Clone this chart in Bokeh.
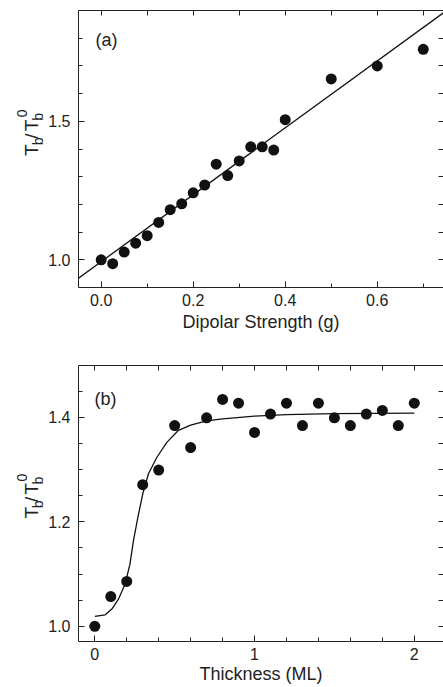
import numpy as np
from bokeh.plotting import figure
from bokeh.models import FixedTicker, LinearAxis, Label, Range1d, PrintfTickFormatter
from bokeh.core.properties import value
from bokeh.layouts import column, row
from bokeh.embed import file_html
from bokeh.resources import INLINE

# ---------------- Panel (a) data ----------------
dipolar_g = [0.0, 0.025, 0.05, 0.075, 0.1, 0.125, 0.15, 0.175, 0.2, 0.225,
             0.25, 0.275, 0.3, 0.325, 0.35, 0.375, 0.4, 0.5, 0.6, 0.7]
tb_ratio_a = [1.000, 0.986, 1.028, 1.060, 1.087, 1.135, 1.181, 1.202, 1.242, 1.270,
              1.345, 1.304, 1.357, 1.408, 1.408, 1.396, 1.506, 1.653, 1.700, 1.760]
fit_a_x = [-0.05, 0.75]
fit_a_y = [0.933, 1.899]

# ---------------- Panel (b) data ----------------
thickness_ml = [0.0, 0.1, 0.2, 0.3, 0.4, 0.5, 0.6, 0.7, 0.8, 0.9, 1.0,
                1.1, 1.2, 1.3, 1.4, 1.5, 1.6, 1.7, 1.8, 1.9, 2.0]
tb_ratio_b = [1.000, 1.057, 1.086, 1.271, 1.299, 1.384, 1.342, 1.399, 1.434, 1.427, 1.371,
              1.406, 1.427, 1.384, 1.427, 1.399, 1.384, 1.406, 1.413, 1.384, 1.427]
fit_b_x = [0.0, 0.065, 0.107, 0.148, 0.19, 0.22, 0.242, 0.27, 0.30, 0.336,
           0.388, 0.451, 0.524, 0.6, 0.7, 0.8, 1.0, 1.2, 1.5, 2.0]
fit_b_y = [1.019, 1.022, 1.033, 1.052, 1.081, 1.119, 1.164, 1.209, 1.253, 1.292,
           1.323, 1.352, 1.375, 1.385, 1.393, 1.397, 1.402, 1.405, 1.407, 1.408]

# ---------------- Ticks ----------------
xticks_a = [0.0, 0.2, 0.4, 0.6]
xminor_a = [0.0, 0.1, 0.2, 0.3, 0.4, 0.5, 0.6, 0.7]
yticks_a = [1.0, 1.5]
yminor_a = [1.0, 1.1, 1.2, 1.3, 1.4, 1.5, 1.6, 1.7, 1.8]
xticks_b = [0, 1, 2]
xminor_b = [0, 0.2, 0.4, 0.6, 0.8, 1.0, 1.2, 1.4, 1.6, 1.8, 2.0]
yticks_b = [1.0, 1.2, 1.4]
yminor_b = [1.0, 1.05, 1.1, 1.15, 1.2, 1.25, 1.3, 1.35, 1.4, 1.45]

FONT = "Liberation Sans"
TXT = "#222222"
INK = "#111111"
LABEL_W = 45


def style_axis(ax, standoff=6):
    ax.major_tick_in = 6
    ax.major_tick_out = 0
    ax.minor_tick_in = 4
    ax.minor_tick_out = 0
    ax.major_tick_line_color = TXT
    ax.minor_tick_line_color = TXT
    ax.axis_line_color = TXT
    ax.major_label_text_font = FONT
    ax.major_label_text_color = TXT
    ax.major_label_text_font_size = "16px"
    ax.major_label_standoff = standoff
    ax.axis_label_text_font = FONT
    ax.axis_label_text_font_size = "18px"
    ax.axis_label_text_font_style = "normal"
    ax.axis_label_text_color = TXT


def mirror_axis(ticks, loc, p, line=True):
    # ticks only (as minor ticks, so no labels are drawn)
    ax = LinearAxis(ticker=FixedTicker(ticks=[], minor_ticks=ticks))
    ax.minor_tick_in = 5
    ax.minor_tick_out = 0
    ax.major_tick_out = 0
    ax.major_tick_in = 0
    ax.major_label_standoff = 0
    ax.minor_tick_line_color = TXT
    ax.axis_line_color = TXT if line else None
    p.add_layout(ax, loc)


def make_panel(height, top, bottom, xr, yr, xt, xm, yt, ym, xfmt, yfmt, xlabel, title_standoff):
    p = figure(width=443 - LABEL_W, height=height, output_backend="svg", toolbar_location=None,
               x_range=Range1d(*xr), y_range=Range1d(*yr),
               min_border_left=78 - LABEL_W, min_border_right=0,
               min_border_top=top, min_border_bottom=bottom)
    p.xgrid.grid_line_color = None
    p.ygrid.grid_line_color = None
    p.outline_line_color = None
    p.background_fill_color = "white"
    p.border_fill_color = "white"

    p.xaxis.ticker = FixedTicker(ticks=xt, minor_ticks=xm)
    p.yaxis.ticker = FixedTicker(ticks=yt, minor_ticks=ym)
    p.xaxis.formatter = PrintfTickFormatter(format=xfmt)
    p.yaxis.formatter = PrintfTickFormatter(format=yfmt)
    style_axis(p.xaxis[0], 6)
    style_axis(p.yaxis[0], 8)
    p.xaxis.axis_label = xlabel
    p.xaxis.axis_label_standoff = title_standoff

    mirror_axis(xm, "above", p, True)
    mirror_axis(ym, "right", p, False)
    return p


def make_ylabel(height, bottom):
    # y label  T_b / T_b^0, rotated, built from pieces
    q = figure(width=LABEL_W, height=height, output_backend="svg", toolbar_location=None,
               x_range=Range1d(0, LABEL_W), y_range=Range1d(0, height),
               min_border=0)
    q.axis.visible = False
    q.grid.visible = False
    q.outline_line_color = None
    q.border_fill_color = "white"
    q.background_fill_color = "white"
    main_txt = ["T", "/", "T"]
    main_x = [31, 31, 31]
    main_y = [bottom + 110, bottom + 131, bottom + 140]
    q.text(x=main_x, y=main_y, text=main_txt, angle=np.pi / 2, text_font=value(FONT),
           text_font_size=value("19px"), text_color=TXT, text_align="left",
           text_baseline="alphabetic")
    sub_txt = ["b", "b", "0"]
    sub_x = [37, 37, 21]
    sub_y = [bottom + 123, bottom + 153, bottom + 157]
    q.text(x=sub_x, y=sub_y, text=sub_txt, angle=np.pi / 2, text_font=value(FONT),
           text_font_size=value("14px"), text_color=TXT, text_align="left",
           text_baseline="alphabetic")
    return q


# Panel (a)
HA, BA = 337, 50
pa = make_panel(HA, 10, BA, (-0.0493, 0.744), (0.9, 1.9),
                xticks_a, xminor_a, yticks_a, yminor_a, "%.1f", "%.1f",
                "Dipolar Strength (g)", 3)
pa.line(fit_a_x, fit_a_y, line_color=INK, line_width=1.3)
pa.scatter(dipolar_g, tb_ratio_a, size=11, fill_color=INK, line_color=None)
pa.add_layout(Label(x=17, y=247.5, x_units="screen", y_units="screen", text="(a)",
                    text_font=FONT, text_font_size="18px", text_color=TXT,
                    text_baseline="alphabetic"))

# Panel (b)
HB, BB = 350, 46
pb = make_panel(HB, 28, BB, (-0.102, 2.183), (0.971, 1.499),
                xticks_b, xminor_b, yticks_b, yminor_b, "%d", "%.1f",
                "Thickness (ML)", 1)
pb.line(fit_b_x, fit_b_y, line_color=INK, line_width=1.3)
pb.scatter(thickness_ml, tb_ratio_b, size=11, fill_color=INK, line_color=None)
pb.add_layout(Label(x=16, y=243, x_units="screen", y_units="screen", text="(b)",
                    text_font=FONT, text_font_size="18px", text_color=TXT,
                    text_baseline="alphabetic"))

layout = column(row(make_ylabel(HA, BA), pa, spacing=0),
                row(make_ylabel(HB, BB), pb, spacing=0), spacing=0)
open("out.html", "w").write(file_html(layout, INLINE))
